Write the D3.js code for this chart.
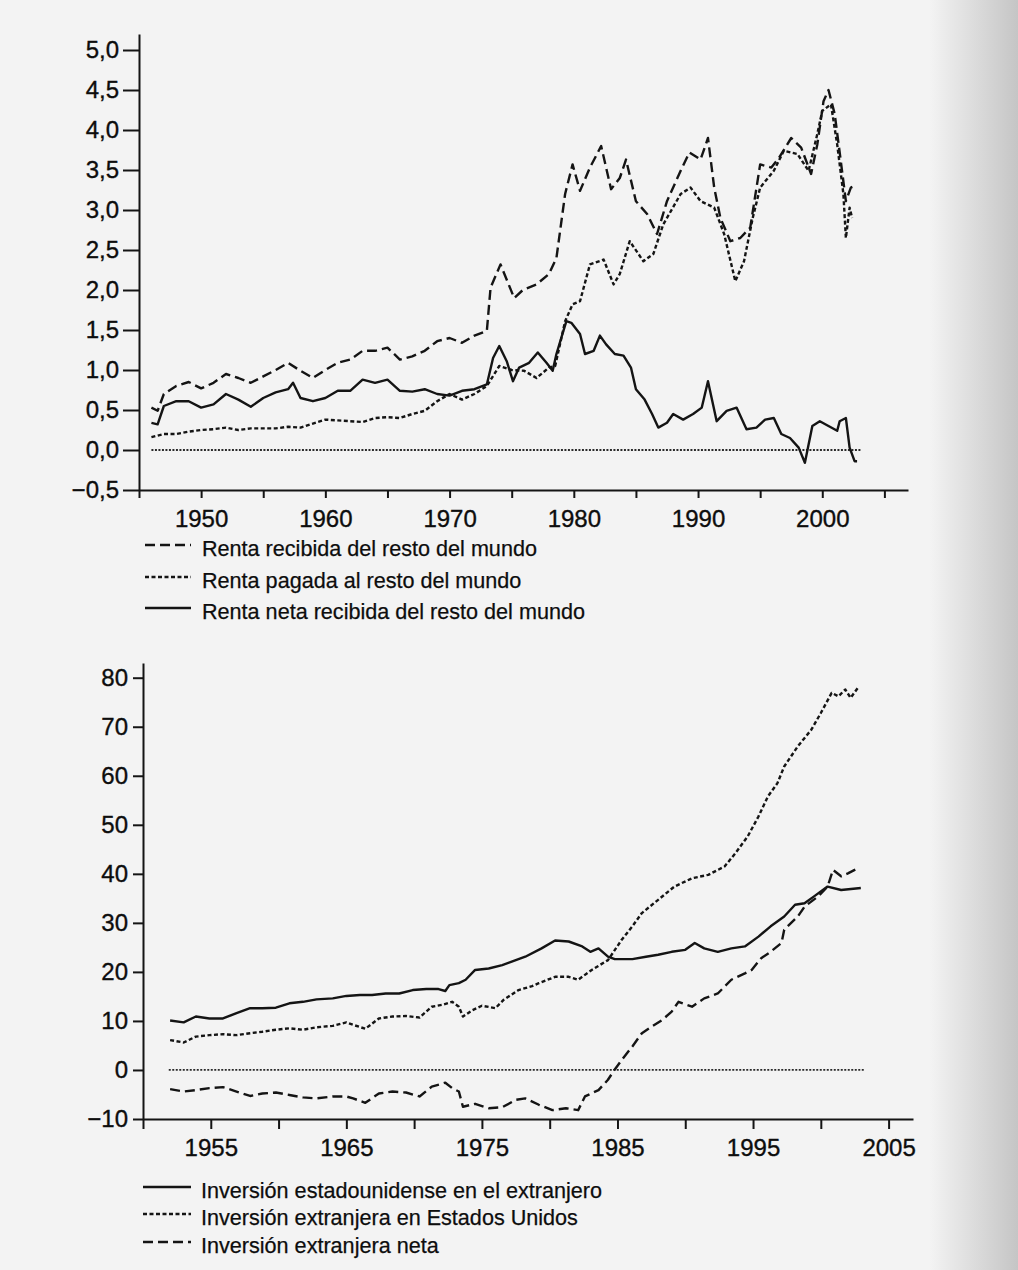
<!DOCTYPE html>
<html>
<head>
  <meta charset="utf-8">
  <title>Renta e inversión con el resto del mundo</title>
  <script src="https://d3js.org/d3.v7.min.js"></script>
  <style>
    body {
      margin: 0;
      padding: 0;
      background-color: #f3f3f3;
    }
    svg {
      font-family: "Liberation Sans", Arial, sans-serif;
    }
    .axis path, .axis line {
      stroke: #141414;
      stroke-width: 2px;
    }
    .axis text {
      font-size: 24px;
      fill: #0d0d0d;
      stroke: #0d0d0d;
      stroke-width: 0.35px;
    }
    .legend text {
      font-size: 21.6px;
      fill: #0d0d0d;
      stroke: #0d0d0d;
      stroke-width: 0.25px;
    }
    .serie {
      fill: none;
      stroke: #141414;
      stroke-width: 2.4px;
      stroke-linejoin: round;
    }
    .cero {
      fill: none;
      stroke: #2a2a2a;
      stroke-width: 1.8px;
      stroke-dasharray: 2,1.5;
    }
  </style>
</head>
<body>

<div id="chart"></div>

<script>
  // ---- Gráfico superior: renta (% del PIB) ----
  var rentaXTicks = [1945, 1950, 1955, 1960, 1965, 1970, 1975, 1980, 1985, 1990, 1995, 2000, 2005];
  var rentaXLabels = [1950, 1960, 1970, 1980, 1990, 2000];
  var rentaYTicks = [-0.5, 0, 0.5, 1.0, 1.5, 2.0, 2.5, 3.0, 3.5, 4.0, 4.5, 5.0];
  var rentaCero = [1946, 2003.1];

  var recibidaYears = [1946, 1946.5, 1947, 1948, 1949, 1950, 1951, 1952, 1953, 1954, 1955, 1956, 1957, 1958, 1959, 1960,
    1961, 1962, 1963, 1964, 1965, 1966, 1967, 1968, 1969, 1970, 1971, 1972, 1973, 1973.3, 1974.1, 1975.2, 1975.9, 1977,
    1978, 1978.6, 1979.3, 1979.9, 1980.5, 1981.3, 1982.2, 1983.0, 1983.7, 1984.2, 1985.0, 1985.9, 1986.7, 1987.5, 1988.6,
    1989.3, 1990.2, 1990.8, 1991.3, 1991.8, 1992.6, 1993.4, 1994.2, 1995.0, 1995.9, 1996.5, 1997.5, 1998.3, 1999.1,
    1999.6, 2000.1, 2000.5, 2001.0, 2001.5, 2001.9, 2002.3, 2002.6];
  var recibidaValues = [0.53, 0.49, 0.70, 0.80, 0.85, 0.77, 0.84, 0.95, 0.90, 0.84, 0.92, 1.00, 1.09, 0.99, 0.90, 1.00,
    1.09, 1.13, 1.24, 1.24, 1.28, 1.13, 1.17, 1.24, 1.36, 1.40, 1.34, 1.43, 1.49, 2.03, 2.32, 1.90, 2.00, 2.07,
    2.20, 2.40, 3.20, 3.57, 3.24, 3.53, 3.80, 3.26, 3.40, 3.63, 3.11, 2.95, 2.70, 3.11, 3.49,
    3.72, 3.63, 3.90, 3.28, 2.90, 2.61, 2.65, 2.78, 3.57, 3.53, 3.65, 3.90, 3.78, 3.45,
    3.82, 4.36, 4.50, 4.20, 3.60, 3.11, 3.28, 3.30];

  var pagadaYears = [1946, 1947, 1948, 1949, 1950, 1951, 1952, 1953, 1954, 1955, 1956, 1957, 1958, 1959, 1960, 1961,
    1962, 1963, 1964, 1965, 1966, 1967, 1968, 1969, 1970, 1971, 1972, 1973, 1974, 1975, 1976, 1977, 1978, 1978.5,
    1979.3, 1979.9, 1980.5, 1981.3, 1982.4, 1983.2, 1983.7, 1984.5, 1985.6, 1986.4, 1987.2, 1988.6, 1989.4, 1990.2,
    1991.3, 1992.1, 1993.0, 1993.7, 1994.4, 1995.0, 1996.1, 1996.9, 1998.0, 1998.9, 1999.6, 2000.0, 2000.7, 2001.2,
    2001.7, 2001.9, 2002.2, 2002.4];
  var pagadaValues = [0.16, 0.20, 0.20, 0.23, 0.25, 0.26, 0.28, 0.25, 0.27, 0.27, 0.27, 0.29, 0.28, 0.33, 0.38, 0.37,
    0.36, 0.35, 0.40, 0.41, 0.40, 0.45, 0.49, 0.61, 0.70, 0.63, 0.70, 0.80, 1.05, 1.00, 0.99, 0.90, 1.03, 1.05,
    1.61, 1.82, 1.86, 2.32, 2.38, 2.07, 2.20, 2.61, 2.36, 2.45, 2.82, 3.20, 3.28, 3.11,
    3.03, 2.70, 2.11, 2.36, 2.90, 3.28, 3.49, 3.74, 3.70, 3.49, 3.95, 4.24, 4.32, 3.82,
    3.20, 2.65, 3.03, 2.90];

  var netaRentaYears = [1946, 1946.5, 1947, 1948, 1949, 1950, 1951, 1952, 1953, 1954, 1955, 1956, 1957, 1957.4, 1958,
    1959, 1960, 1961, 1962, 1963, 1964, 1965, 1966, 1967, 1968, 1969, 1970, 1971, 1972, 1973, 1973.5, 1974, 1974.6,
    1975.1, 1975.6, 1976.4, 1977.1, 1977.8, 1978.3, 1978.6, 1979.4, 1979.8, 1980.5, 1980.9, 1981.6, 1982.1, 1982.6,
    1983.3, 1984.0, 1984.6, 1985.0, 1985.7, 1986.3, 1986.8, 1987.5, 1988.0, 1988.8, 1989.6, 1990.3, 1990.8, 1991.5,
    1992.3, 1993.1, 1993.9, 1994.7, 1995.4, 1996.1, 1996.7, 1997.4, 1998.1, 1998.6, 1999.2, 1999.8, 2000.5, 2001.2,
    2001.4, 2001.9, 2002.2, 2002.6, 2002.8];
  var netaRentaValues = [0.34, 0.32, 0.55, 0.61, 0.61, 0.53, 0.57, 0.70, 0.63, 0.54, 0.65, 0.72, 0.76, 0.84, 0.65,
    0.61, 0.65, 0.74, 0.74, 0.88, 0.84, 0.88, 0.74, 0.73, 0.76, 0.70, 0.68, 0.74, 0.76, 0.82, 1.15, 1.30, 1.11,
    0.86, 1.03, 1.09, 1.22, 1.09, 0.99, 1.20, 1.61, 1.59, 1.45, 1.20, 1.24, 1.43, 1.32,
    1.20, 1.18, 1.03, 0.76, 0.63, 0.45, 0.28, 0.34, 0.45, 0.38, 0.45, 0.53, 0.86, 0.36,
    0.49, 0.53, 0.26, 0.28, 0.38, 0.40, 0.20, 0.15, 0.03, -0.16, 0.30, 0.36, 0.30, 0.24,
    0.36, 0.40, 0.03, -0.14, -0.14];

  // ---- Gráfico inferior: inversión (% del PIB) ----
  var invXTicks = [1950, 1955, 1960, 1965, 1970, 1975, 1980, 1985, 1990, 1995, 2000, 2005];
  var invXLabels = [1955, 1965, 1975, 1985, 1995, 2005];
  var invYTicks = [-10, 0, 10, 20, 30, 40, 50, 60, 70, 80];
  var invCero = [1951.9, 2003.2];

  var eeuuFueraYears = [1952, 1953, 1953.9, 1954.9, 1955.9, 1956.9, 1957.9, 1958.8, 1959.8, 1960.8, 1961.8, 1962.8,
    1964, 1965, 1966, 1966.9, 1967.9, 1968.9, 1969.9, 1970.9, 1971.8, 1972.3, 1972.6, 1973.3, 1973.8, 1974.5, 1975.5,
    1976.5, 1977.2, 1978.2, 1979.4, 1980.4, 1981.4, 1982.4, 1983.0, 1983.6, 1984.3, 1984.8, 1986.1, 1987.1, 1988.0,
    1989.0, 1990.0, 1990.7, 1991.4, 1992.4, 1993.4, 1994.4, 1995.4, 1996.3, 1997.3, 1998.1, 1998.8, 1999.5, 2000.5,
    2001.5, 2002.95];
  var eeuuFueraValues = [10.1, 9.7, 10.9, 10.5, 10.5, 11.6, 12.6, 12.6, 12.7, 13.6, 13.9, 14.4,
    14.6, 15.1, 15.3, 15.3, 15.6, 15.6, 16.3, 16.5, 16.5, 16.1, 17.3, 17.7, 18.4, 20.4, 20.7,
    21.4, 22.1, 23.1, 24.8, 26.4, 26.2, 25.2, 24.1, 24.8, 23.1, 22.6, 22.6, 23.1, 23.5,
    24.1, 24.5, 25.9, 24.8, 24.1, 24.8, 25.2, 27.2, 29.3, 31.3, 33.7, 34.0, 35.4, 37.4,
    36.7, 37.1];

  var extranjeraYears = [1952, 1953, 1953.9, 1954.9, 1955.9, 1956.9, 1957.9, 1958.8, 1959.8, 1960.8, 1961.8, 1962.8,
    1964, 1965, 1965.5, 1966.4, 1967.4, 1968.4, 1969.4, 1970.4, 1971.3, 1972.1, 1972.8, 1973.3, 1973.6, 1974.3, 1975,
    1976, 1976.6, 1977.7, 1978.7, 1979.2, 1980.4, 1981.4, 1982.1, 1983.1, 1984.3, 1985.3, 1986.1, 1986.8, 1988.0,
    1989.2, 1990.5, 1991.7, 1992.9, 1993.7, 1994.6, 1995.4, 1996.1, 1996.8, 1997.3, 1998.3, 1999.3, 2000.0, 2000.8,
    2001.3, 2001.8, 2002.2, 2002.8];
  var extranjeraValues = [6.1, 5.6, 6.8, 7.1, 7.3, 7.1, 7.5, 7.8, 8.2, 8.5, 8.2, 8.7,
    9.0, 9.7, 9.2, 8.4, 10.5, 10.9, 11.0, 10.7, 12.9, 13.3, 13.9, 12.9, 10.9, 12.2, 13.1,
    12.6, 14.3, 16.3, 17.1, 17.7, 19.0, 19.0, 18.4, 20.4, 22.4, 26.5, 29.3, 32.0, 34.7,
    37.4, 39.1, 39.8, 41.5, 44.2, 47.6, 51.7, 55.8, 58.5, 61.9, 66.0, 69.4, 72.8, 76.9,
    76.2, 77.6, 75.9, 78.2];

  var netaInvYears = [1952, 1953, 1953.9, 1954.9, 1955.9, 1956.9, 1957.9, 1958.8, 1959.8, 1960.8, 1961.8, 1962.8,
    1964, 1965, 1965.5, 1966.4, 1967.4, 1968.4, 1969.4, 1970.4, 1971.3, 1972.3, 1972.8, 1973.3, 1973.6, 1974.5, 1975.5,
    1976.5, 1977.5, 1978.2, 1979.2, 1980.2, 1981.2, 1982.1, 1982.6, 1983.6, 1984.3, 1984.7, 1985.3, 1986.1, 1986.8,
    1987.5, 1988.3, 1989.0, 1989.5, 1990.5, 1991.4, 1992.4, 1993.4, 1994.4, 1994.9, 1995.6, 1996.3, 1997.1, 1997.3,
    1998.3, 1998.8, 1999.8, 2000.5, 2000.9, 2001.5, 2002.0, 2002.5, 2002.8];
  var netaInvValues = [-3.9, -4.4, -4.1, -3.7, -3.5, -4.4, -5.3, -4.8, -4.6, -5.1, -5.6, -5.8,
    -5.4, -5.4, -5.8, -6.7, -4.8, -4.4, -4.6, -5.4, -3.4, -2.6, -3.7, -4.4, -7.5, -6.9, -7.8,
    -7.6, -6.1, -5.8, -7.1, -8.2, -7.8, -8.2, -5.4, -4.1, -2.0, -0.3, 2.0, 4.8, 7.5,
    8.8, 10.2, 11.9, 13.9, 12.9, 14.6, 15.6, 18.4, 19.7, 20.4, 22.8, 24.1, 25.9, 28.6,
    31.3, 33.3, 35.4, 37.4, 40.8, 39.5, 40.1, 40.8, 41.2];

  var width = 1018,
      height = 1270;

  var svg = d3.select("#chart")
    .append("svg")
      .attr("width", width)
      .attr("height", height);

  // borde derecho del escaneo, algo más oscuro
  var grad = svg.append("defs").append("linearGradient")
      .attr("id", "borde")
      .attr("x1", "0").attr("x2", "1").attr("y1", "0").attr("y2", "0");
  grad.append("stop").attr("offset", "0").attr("stop-color", "#bdbdbd").attr("stop-opacity", 0);
  grad.append("stop").attr("offset", "1").attr("stop-color", "#bdbdbd").attr("stop-opacity", 0.85);
  svg.append("rect")
    .attr("x", 930).attr("y", 0)
    .attr("width", 88).attr("height", height)
    .attr("fill", "url(#borde)");

  function pairs(xs, ys) {
    return xs.map(function(d, i) { return [d, ys[i]]; });
  }

  function fmtComa(d) {
    return d.toFixed(1).replace(".", ",").replace("-", "\u2212");
  }

  function drawChart(opt) {
    var x = d3.scaleLinear().domain(opt.xDomain).range(opt.xRange);
    var y = d3.scaleLinear().domain(opt.yDomain).range(opt.yRange);
    var g = svg.append("g");

    // línea del cero punteada
    g.append("path")
      .attr("class", "cero")
      .attr("d", d3.line()([[x(opt.cero[0]), y(0)], [x(opt.cero[1]), y(0)]]));

    opt.series.forEach(function(s) {
      g.append("path")
        .attr("class", "serie")
        .attr("stroke-dasharray", s.dash)
        .attr("d", d3.line()
          .x(function(d) { return x(d[0]); })
          .y(function(d) { return y(d[1]); })(pairs(s.years, s.values)));
    });

    g.append("g")
      .attr("class", "axis")
      .attr("transform", "translate(0," + opt.yRange[0] + ")")
      .call(d3.axisBottom(x)
        .tickValues(opt.xTicks)
        .tickSize(opt.xTickSize)
        .tickSizeOuter(0)
        .tickPadding(opt.xPad)
        .tickFormat(function(d) { return opt.xLabels.indexOf(d) >= 0 ? d : ""; }));

    g.append("g")
      .attr("class", "axis")
      .attr("transform", "translate(" + opt.xRange[0] + ",0)")
      .call(d3.axisLeft(y)
        .tickValues(opt.yTicks)
        .tickSize(opt.yTickSize)
        .tickSizeOuter(0)
        .tickPadding(opt.yPad)
        .tickFormat(opt.yFormat));

    // leyenda
    var leg = svg.append("g").attr("class", "legend");
    opt.series.forEach(function(s, i) {
      var ly = opt.legendY[i];
      leg.append("line")
        .attr("class", "serie")
        .attr("x1", opt.legendX[0]).attr("x2", opt.legendX[1])
        .attr("y1", ly - 3).attr("y2", ly - 3)
        .attr("stroke-dasharray", s.dash);
      leg.append("text")
        .attr("x", opt.legendX[2])
        .attr("y", ly)
        .attr("dy", "0.35em")
        .text(s.name);
    });
  }

  drawChart({
    xDomain: [1945, 2006.9], xRange: [139, 908],
    yDomain: [-0.5, 5.2], yRange: [490, 34],
    xTicks: rentaXTicks, xLabels: rentaXLabels, xTickSize: 8, xPad: 12,
    yTicks: rentaYTicks, yTickSize: 16, yPad: 4, yFormat: fmtComa,
    cero: rentaCero,
    legendX: [145, 191, 202], legendY: [548, 580, 611],
    series: [
      { name: "Renta recibida del resto del mundo", years: recibidaYears, values: recibidaValues, dash: "10,5" },
      { name: "Renta pagada al resto del mundo", years: pagadaYears, values: pagadaValues, dash: "4,2.5" },
      { name: "Renta neta recibida del resto del mundo", years: netaRentaYears, values: netaRentaValues, dash: null }
    ]
  });

  drawChart({
    xDomain: [1950, 2006.8], xRange: [143, 913],
    yDomain: [-10, 83], yRange: [1119, 663],
    xTicks: invXTicks, xLabels: invXLabels, xTickSize: 10, xPad: 10,
    yTicks: invYTicks, yTickSize: 10, yPad: 5,
    yFormat: function(d) { return String(d).replace("-", "\u2212"); },
    cero: invCero,
    legendX: [143, 191, 201], legendY: [1190, 1217, 1245],
    series: [
      { name: "Inversión estadounidense en el extranjero", years: eeuuFueraYears, values: eeuuFueraValues, dash: null },
      { name: "Inversión extranjera en Estados Unidos", years: extranjeraYears, values: extranjeraValues, dash: "4,2.5" },
      { name: "Inversión extranjera neta", years: netaInvYears, values: netaInvValues, dash: "10,5" }
    ]
  });
</script>

</body>
</html>
